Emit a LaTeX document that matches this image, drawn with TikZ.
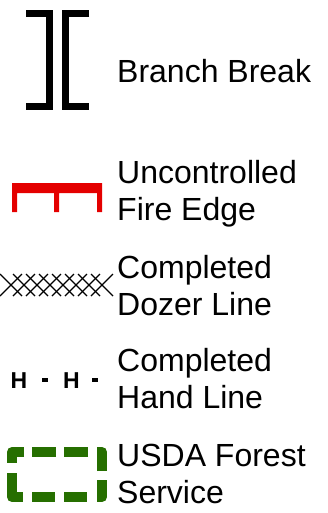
\documentclass[tikz,border=0pt]{standalone}
\usepackage{fontspec}
\setmainfont{Liberation Sans}
\definecolor{fireRed}{RGB}{228,0,0}
\definecolor{forestGreen}{RGB}{38,111,0}
\tikzset{
    legend text/.style={anchor=base west, inner sep=0pt, align=left,
        font=\fontsize{32}{37}\selectfont},
    branch break/.style={line width=7pt, line join=miter},
    fire edge/.style={fill=fireRed},
    dozer line/.style={line width=1.4pt},
    hand mark/.style={anchor=base, inner sep=0pt, font=\fontsize{23}{23}\selectfont\bfseries},
    hand dash/.style={fill, inner sep=0pt, minimum width=6pt, minimum height=4pt},
    usda box/.style={draw=forestGreen, line width=10pt, line join=round,
        dash pattern=on 35pt off 9pt on 23pt off 9pt on 23pt off 10pt on 22pt off 9pt
        on 24pt off 9pt on 24pt off 8pt on 24pt off 8pt on 23pt off 10pt},
}

\begin{document}
\begin{tikzpicture}[x=1pt, y=-1pt]
\useasboundingbox (0,0) rectangle (328,513);

% branch break
\draw[branch break] (26,13.5) -- (49.5,13.5) -- (49.5,106.5) -- (26,106.5);
\draw[branch break] (89,13.5) -- (65.5,13.5) -- (65.5,106.5) -- (89,106.5);
\node[legend text] (branchBreak) at (117,83) {Branch Break};

% uncontrolled fire edge
\fill[fire edge] (12,183) -- (102,183) -- (102,212) -- (97,212) -- (97,193) -- (59,193)
    -- (59,212) -- (54,212) -- (54,193) -- (17,193) -- (17,212) -- (12,212) -- cycle;
\node[legend text] (fireEdge) at (117,220) {Uncontrolled\\Fire Edge};

% completed dozer line
\foreach \k in {0,...,7}
    \draw[dozer line] (13*\k,274) -- ++(22,22) (13*\k+22,274) -- ++(-22,22);
\node[legend text] (dozerLine) at (117,315) {Completed\\Dozer Line};

% completed hand line
\node[hand mark] (h1) at (19,388) {H};
\node[hand dash] (d1) at (45,380) {};
\node[hand mark] (h2) at (71.5,388) {H};
\node[hand dash] (d2) at (95,380) {};
\node[legend text] (handLine) at (117,408) {Completed\\Hand Line};

% usda forest service
\draw[usda box] (12,473) -- (12,497) -- (102,497) -- (102,452) -- (12,452) -- cycle;
\node[legend text] (forestService) at (117,503) {USDA Forest\\Service};

\end{tikzpicture}
\end{document}
